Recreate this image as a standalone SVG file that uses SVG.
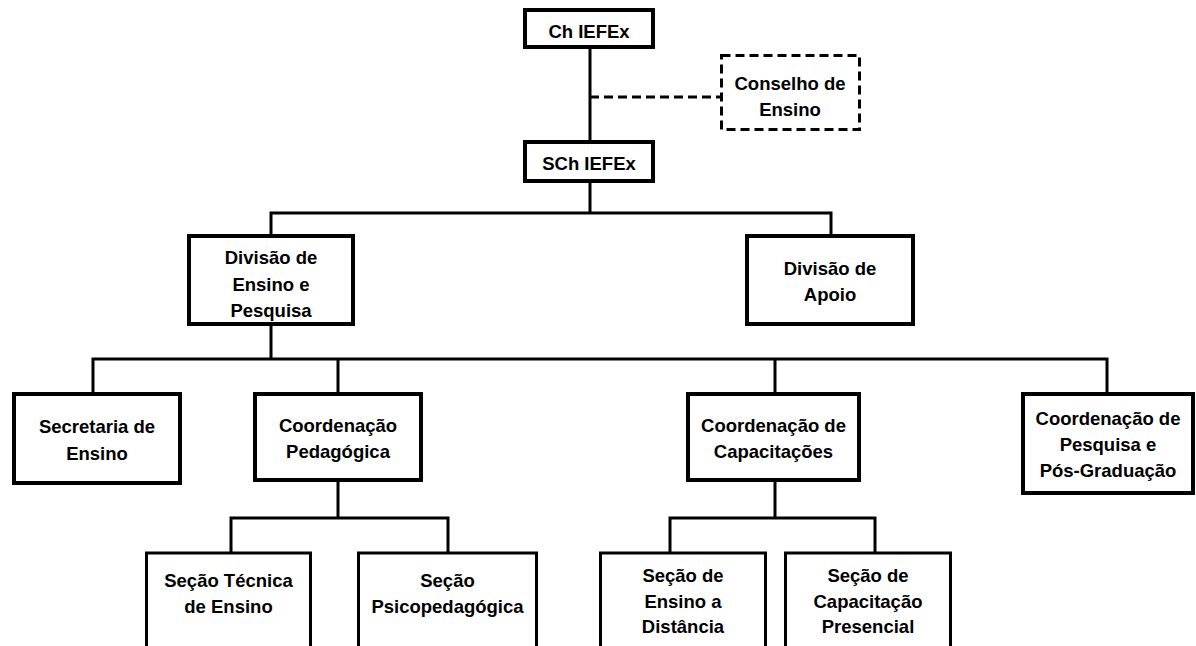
<svg xmlns="http://www.w3.org/2000/svg" width="1196" height="646" viewBox="0 0 1196 646">
<style>
.box{fill:#fff;stroke:#000;stroke-width:4}
.sec{fill:#fff;stroke:#000;stroke-width:3}
.dash{fill:#fff;stroke:#000;stroke-width:3;stroke-dasharray:9 5}
.ln{fill:none;stroke:#000;stroke-width:3}
.dl{fill:none;stroke:#000;stroke-width:3;stroke-dasharray:9 5}
text{font-family:"Liberation Sans",Arial,sans-serif;font-weight:bold;font-size:18.5px;text-anchor:middle;fill:#000}
</style>
<rect width="1196" height="646" fill="#fff"/>
<g id="connectors">
<path class="ln" d="M590,49V140"/>
<path class="dl" d="M590,97H720"/>
<path class="ln" d="M590,183V213M271,234V213H831V234"/>
<path class="ln" d="M271,326V359M93,392V359H1107V392M338,359V392M775,359V392"/>
<path class="ln" d="M338,482V518M231,552V518H448V552"/>
<path class="ln" d="M775,482V518M670,552V518H875V552"/>
</g>
<g id="ch"><rect class="box" x="525" y="10" width="128" height="37"/><text x="589" y="38">Ch IEFEx</text></g>
<g id="conselho"><rect class="dash" x="721.5" y="55.5" width="138" height="74"/><text x="790" y="90">Conselho de</text><text x="790" y="115.5">Ensino</text></g>
<g id="sch"><rect class="box" x="525" y="142" width="128" height="39"/><text x="589" y="169.5">SCh IEFEx</text></g>
<g id="div-ensino"><rect class="box" x="189" y="236" width="164" height="88"/><text x="271" y="263.5">Divisão de</text><text x="271" y="290.5">Ensino e</text><text x="271" y="317">Pesquisa</text></g>
<g id="div-apoio"><rect class="box" x="747" y="236" width="166" height="88"/><text x="830" y="274.5">Divisão de</text><text x="830" y="301">Apoio</text></g>
<g id="secretaria"><rect class="box" x="14" y="394" width="166" height="89"/><text x="97" y="433">Secretaria de</text><text x="97" y="459.5">Ensino</text></g>
<g id="coord-ped"><rect class="box" x="255" y="394" width="166" height="86"/><text x="338" y="431.5">Coordenação</text><text x="338" y="458">Pedagógica</text></g>
<g id="coord-cap"><rect class="box" x="688" y="394" width="171" height="86"/><text x="773.5" y="431.5">Coordenação de</text><text x="773.5" y="458">Capacitações</text></g>
<g id="coord-pesq"><rect class="box" x="1023" y="394" width="170" height="99"/><text x="1108" y="424.5">Coordenação de</text><text x="1108" y="450.5">Pesquisa e</text><text x="1108" y="476.5">Pós-Graduação</text></g>
<g id="sec-tecnica"><rect class="sec" x="146.5" y="553" width="164" height="110"/><text x="228.5" y="586.5">Seção Técnica</text><text x="228.5" y="613">de Ensino</text></g>
<g id="sec-psico"><rect class="sec" x="358.5" y="553" width="178" height="110"/><text x="447.5" y="586.5">Seção</text><text x="447.5" y="613">Psicopedagógica</text></g>
<g id="sec-ead"><rect class="sec" x="600.5" y="553" width="165" height="110"/><text x="683" y="581.5">Seção de</text><text x="683" y="607.5">Ensino a</text><text x="683" y="633">Distância</text></g>
<g id="sec-pres"><rect class="sec" x="785.5" y="553" width="165" height="110"/><text x="868" y="581.5">Seção de</text><text x="868" y="607.5">Capacitação</text><text x="868" y="633">Presencial</text></g>
</svg>
